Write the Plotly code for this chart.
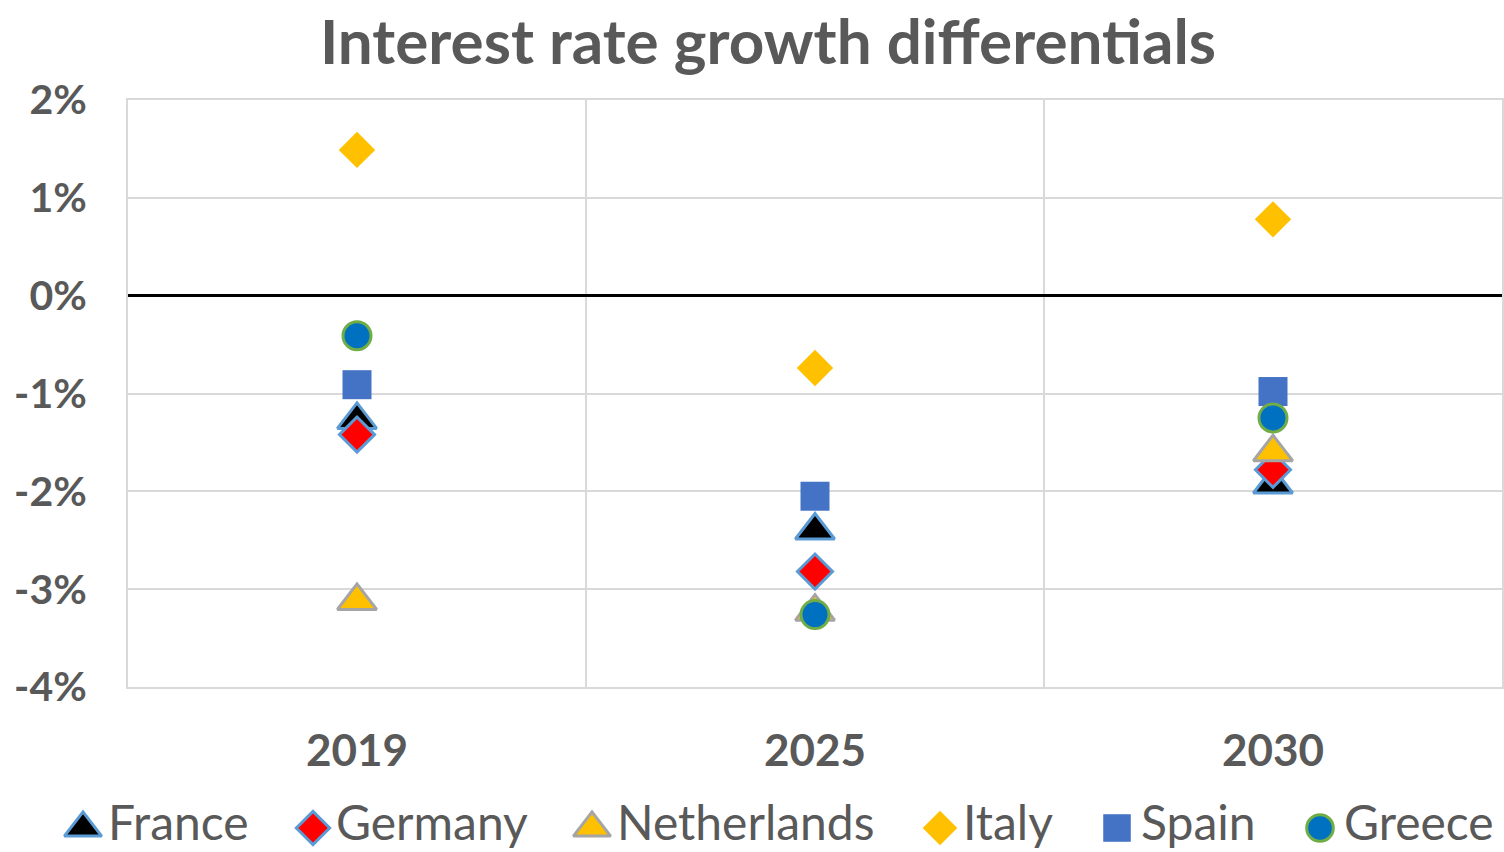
import plotly.graph_objects as go

# Years on the category axis
years = ["2019", "2025", "2030"]

# Interest rate minus growth, in percentage points
france = [-1.27, -2.40, -1.93]
germany = [-1.42, -2.82, -1.78]
netherlands = [-3.12, -3.23, -1.60]
italy = [1.49, -0.74, 0.78]
spain = [-0.91, -2.05, -0.98]
greece = [-0.41, -3.26, -1.25]

y_ticks = [-4, -3, -2, -1, 0, 1, 2]
y_tick_labels = ["-4%", "-3%", "-2%", "-1%", "0%", "1%", "2%"]

countries = ["France", "Germany", "Netherlands", "Italy", "Spain", "Greece"]
values = [france, germany, netherlands, italy, spain, greece]

# marker styling per country: symbol, size, fill, outline colour, outline width
styles = {
    "France": ("triangle-up", 34, "#000000", "#5B9BD5", 3),
    "Germany": ("diamond", 27, "#FF0000", "#5B9BD5", 3),
    "Netherlands": ("triangle-up", 34, "#FFC000", "#A5A5A5", 3),
    "Italy": ("diamond", 28, "#FFC000", "#FFC000", 0),
    "Spain": ("square", 29, "#4472C4", "#4472C4", 0),
    "Greece": ("circle", 28, "#0070C0", "#70AD47", 3),
}

FONT = "Lato"
GREY = "#595959"
GRID = "#D9D9D9"

W, H = 1504, 852
plot_left, plot_right = 128, 1502
plot_top, plot_bottom = 100, 687

fig = go.Figure()

for name, vals in zip(countries, values):
    sym, size, fill, edge, lw = styles[name]
    fig.add_trace(go.Scatter(
        x=years, y=vals, mode="markers", name=name,
        marker=dict(symbol=sym, size=size, color=fill,
                    line=dict(color=edge, width=lw)),
        showlegend=False, cliponaxis=False,
    ))

# legend row drawn on its own hidden axis below the chart
legend_marker_x = [83, 313, 592, 940, 1117, 1320]
legend_text_x = [108, 336, 617, 963, 1141, 1344]
for name, mx, tx in zip(countries, legend_marker_x, legend_text_x):
    sym, size, fill, edge, lw = styles[name]
    fig.add_trace(go.Scatter(
        x=[mx], y=[24], mode="markers", xaxis="x2", yaxis="y2",
        marker=dict(symbol=sym, size=size * 0.95, color=fill,
                    line=dict(color=edge, width=lw)),
        showlegend=False, cliponaxis=False, hoverinfo="skip",
    ))
    fig.add_trace(go.Scatter(
        x=[tx], y=[24], mode="text", text=[name], textposition="middle right",
        textfont=dict(family=FONT, size=48, color=GREY),
        xaxis="x2", yaxis="y2",
        showlegend=False, cliponaxis=False, hoverinfo="skip",
    ))

fig.update_layout(
    width=W, height=H,
    margin=dict(l=0, r=0, t=0, b=0),
    paper_bgcolor="white", plot_bgcolor="white",
    showlegend=False,
    title=dict(
        text="<b>Interest rate growth differentials</b>",
        font=dict(family=FONT, size=62, color=GREY),
        x=768 / W, xanchor="center", xref="paper",
        y=1 - 42 / H, yanchor="middle", yref="container",
        automargin=False,
    ),
    xaxis=dict(
        domain=[plot_left / W, plot_right / W],
        type="category", tickson="boundaries",
        showgrid=True, gridcolor=GRID, gridwidth=2,
        showline=True, linecolor=GRID, linewidth=2, mirror=True,
        ticks="", ticklabelstandoff=24, automargin=False,
        tickfont=dict(family=FONT, size=44, color=GREY, weight="bold"),
        range=[-0.5, 2.5],
    ),
    yaxis=dict(
        domain=[1 - plot_bottom / H, 1 - plot_top / H],
        range=[-4, 2], tickvals=y_ticks, ticktext=y_tick_labels,
        showgrid=True, gridcolor=GRID, gridwidth=2,
        showline=True, linecolor=GRID, linewidth=2, mirror=True,
        zeroline=True, zerolinecolor="#000000", zerolinewidth=3,
        ticks="", ticklabelstandoff=31, automargin=False,
        tickfont=dict(family=FONT, size=41, color=GREY, weight="bold"),
    ),
    xaxis2=dict(domain=[0, 1], range=[0, W], visible=False, anchor="y2",
                automargin=False),
    yaxis2=dict(domain=[0, 48 / H], range=[0, 48], visible=False, anchor="x2",
                automargin=False),
)

fig.write_html("out.html")
